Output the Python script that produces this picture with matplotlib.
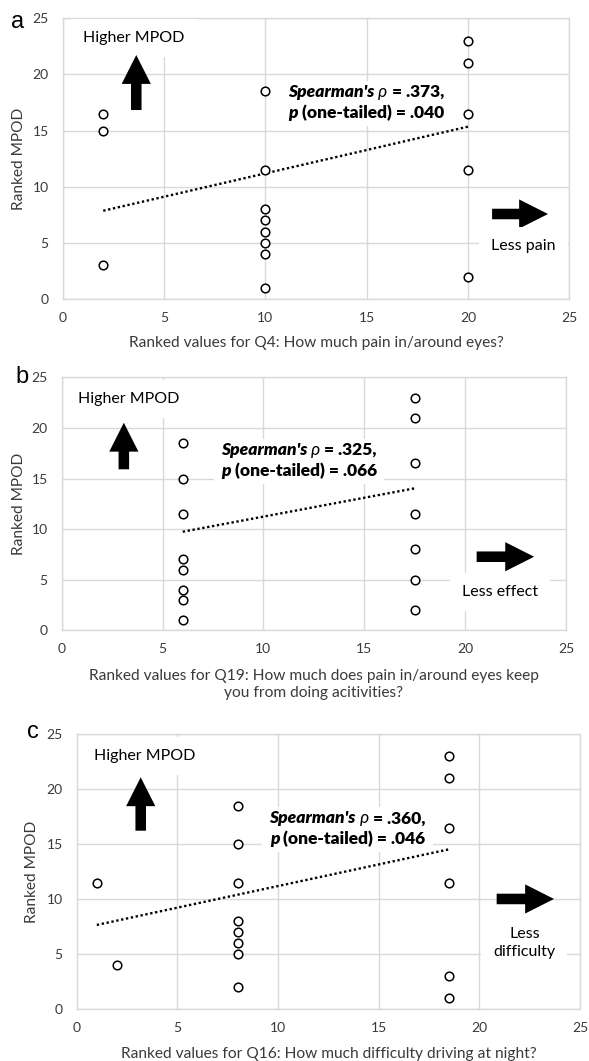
import matplotlib
matplotlib.use('Agg')
import matplotlib.pyplot as plt
from matplotlib.patches import Rectangle, ArrowStyle

# ---------------- data ----------------
x_a = [2, 2, 2, 10, 10, 10, 10, 10, 10, 10, 10, 20, 20, 20, 20, 20]
y_a = [16.5, 15, 3, 18.5, 11.5, 8, 7, 6, 5, 4, 1, 23, 21, 16.5, 11.5, 2]
trend_x_a = [2, 20]
trend_y_a = [7.86, 15.35]

x_b = [6, 6, 6, 6, 6, 6, 6, 6, 17.5, 17.5, 17.5, 17.5, 17.5, 17.5, 17.5]
y_b = [18.5, 15, 11.5, 7, 6, 4, 3, 1, 23, 21, 16.5, 11.5, 8, 5, 2]
trend_x_b = [6, 17.5]
trend_y_b = [9.74, 14.03]

x_c = [1, 2, 8, 8, 8, 8, 8, 8, 8, 8, 18.5, 18.5, 18.5, 18.5, 18.5, 18.5]
y_c = [11.5, 4, 18.5, 15, 11.5, 8, 7, 6, 5, 2, 23, 21, 16.5, 11.5, 3, 1]
trend_x_c = [1, 18.5]
trend_y_c = [7.66, 14.53]

ticks = [0, 5, 10, 15, 20, 25]
ylabel = "Ranked MPOD"
xlabel_a = "Ranked values for Q4: How much pain in/around eyes?"
xlabel_b = "Ranked values for Q19: How much does pain in/around eyes keep\nyou from doing acitivities?"
xlabel_c = "Ranked values for Q16: How much difficulty driving at night?"
rho_a, p_a = ".373", ".040"
rho_b, p_b = ".325", ".066"
rho_c, p_c = ".360", ".046"
less_a = "Less pain"
less_b = "Less effect"
less_c = "Less\ndifficulty"

FONT = 'Lato'
GRID = '#d9d9d9'
TXT = '#3a3a3a'

fig = plt.figure(figsize=(5.89, 10.61), dpi=100)
W, H = 589, 1061


def pix_axes(left, top, right, bottom):
    return fig.add_axes([left / W, 1 - bottom / H, (right - left) / W, (bottom - top) / H])


def style_axes(ax):
    ax.set_xlim(0, 25)
    ax.set_ylim(0, 25)
    ax.set_xticks(ticks)
    ax.set_yticks(ticks)
    ax.set_axisbelow(True)
    ax.grid(True, color=GRID, lw=1)
    for s in ax.spines.values():
        s.set_color(GRID)
        s.set_linewidth(1)
    ax.tick_params(length=0, labelsize=10, labelcolor=TXT)
    ax.tick_params(axis='x', pad=9)
    ax.tick_params(axis='y', pad=10)
    for lab in ax.get_xticklabels() + ax.get_yticklabels():
        lab.set_fontfamily(FONT)


def arrow(ax, tail, tip):
    ax.annotate('', xy=tip, xytext=tail,
                arrowprops=dict(arrowstyle=ArrowStyle.Simple(head_length=1.04, head_width=1.05, tail_width=0.38),
                                fc='black', ec='none', shrinkA=0, shrinkB=0, mutation_scale=20),
                zorder=3)


def mixed_line(ax, x, y, pieces, fs):
    texts = []
    first = ax.text(x, y, pieces[0][0], ha='left', va='center', fontsize=fs,
                    family=[FONT, 'DejaVu Sans'], zorder=5, **pieces[0][1])
    texts.append(first)
    prev = first
    for s, kw in pieces[1:]:
        t = ax.annotate(s, xy=(1, 0), xycoords=prev, ha='left', va='bottom', fontsize=fs,
                        family=[FONT, 'DejaVu Sans'], zorder=5, **kw)
        texts.append(t)
        prev = t
    return texts


def spearman(ax, x, y1, y2, rho, p, fs=12.5):
    BI = dict(style='italic', weight='heavy')
    I = dict(style='italic', weight='normal')
    B = dict(weight='heavy')
    l1 = mixed_line(ax, x, y1, [("Spearman's", BI), (" \u03c1", I), (" = " + rho + ",", B)], fs)
    l2 = mixed_line(ax, x, y2, [("p", BI), (" (one-tailed) = " + p, B)], fs)
    fig.canvas.draw()
    r = fig.canvas.get_renderer()
    for line, yy in ((l1, y1), (l2, y2)):
        bbs = [t.get_window_extent(r) for t in line]
        w = max(b.x1 for b in bbs) - min(b.x0 for b in bbs)
        xd, yd = ax.transData.transform((x, yy))
        nx, ny = ax.transData.inverted().transform((xd - w / 2, yd))
        line[0].set_position((nx, ny))
    fig.canvas.draw()
    bbs = [t.get_window_extent(r) for t in l1 + l2]
    x0 = min(b.x0 for b in bbs) - 7
    x1 = max(b.x1 for b in bbs) + 7
    y0 = min(b.y0 for b in bbs) - 5
    y1_ = max(b.y1 for b in bbs) + 3
    inv = ax.transData.inverted()
    (dx0, dy0), (dx1, dy1) = inv.transform([(x0, y0), (x1, y1_)])
    ax.add_patch(Rectangle((dx0, dy0), dx1 - dx0, dy1 - dy0, fc='white', ec='none', zorder=1.5))


def panel(ax, xs, ys, tx, ty, xlabel, xl_y, yl_x, higher_xy, up_tail, up_tip, right_tail, right_tip,
          less_txt, less_xy, sp_x, sp_y1, sp_y2, rho, p):
    style_axes(ax)
    ax.plot(tx, ty, color='black', lw=1.7, linestyle=(0, (1, 1.1)), zorder=2)
    ax.plot(xs, ys, 'o', ms=6.2, mfc='white', mec='black', mew=1.1, ls='none', zorder=4)
    ax.set_xlabel(xlabel, fontsize=11.2, family=FONT, color=TXT, va='center', linespacing=1.3)
    ax.xaxis.set_label_coords(0.5, xl_y)
    ax.set_ylabel(ylabel, fontsize=11.2, family=FONT, color=TXT, va='center')
    ax.yaxis.set_label_coords(yl_x, 0.5)
    ax.text(higher_xy[0], higher_xy[1], "Higher MPOD", ha='center', va='center', fontsize=11.5,
            family=FONT, color='black', zorder=3,
            bbox=dict(fc='white', ec='none', boxstyle='square,pad=0.75'))
    arrow(ax, up_tail, up_tip)
    arrow(ax, right_tail, right_tip)
    ax.text(less_xy[0], less_xy[1], less_txt, ha='center', va='center', fontsize=11.5,
            family=FONT, color='black', zorder=3, linespacing=1.35,
            bbox=dict(fc='white', ec='none', boxstyle='square,pad=0.75'))
    spearman(ax, sp_x, sp_y1, sp_y2, rho, p)


axA = pix_axes(62.7, 18.3, 569.3, 299)
axB = pix_axes(61.7, 377.3, 566, 630.3)
axC = pix_axes(76.7, 734, 580, 1009.3)

panel(axA, x_a, y_a, trend_x_a, trend_y_a, xlabel_a, -0.158, -0.086, (3.48, 23.22),
      (3.63, 16.83), (3.63, 21.73), (21.19, 7.57), (23.95, 7.57), less_a, (22.74, 4.72),
      14.97, 18.46, 16.54, rho_a, p_a)
panel(axB, x_b, y_b, trend_x_b, trend_y_b, xlabel_b, -0.214, -0.085, (3.33, 22.83),
      (3.08, 15.91), (3.08, 20.51), (20.57, 7.27), (23.42, 7.27), less_b, (21.73, 3.81),
      11.76, 17.82, 15.74, rho_b, p_b)
panel(axC, x_c, y_c, trend_x_c, trend_y_c, xlabel_c, -0.162, -0.089, (3.40, 23.0),
      (3.18, 16.22), (3.18, 21.07), (20.86, 10.02), (23.71, 10.02), less_c, (22.24, 5.99),
      13.45, 17.35, 15.44, rho_c, p_c)

for lab, px, py in (("a", 18, 27.7), ("b", 21.7, 383), ("c", 32.5, 738)):
    fig.text(px / W, 1 - py / H, lab, ha='center', va='baseline', fontsize=17,
             family='Liberation Sans', color='black')

fig.savefig('out.png', dpi=100)
